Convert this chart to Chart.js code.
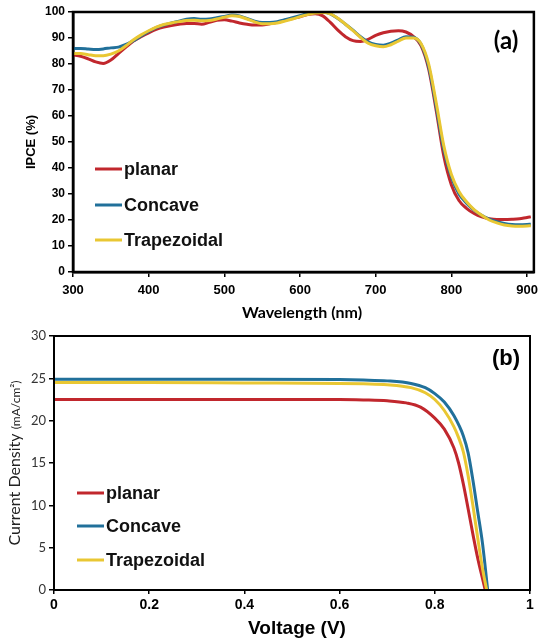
<!DOCTYPE html>
<html>
<head>
<meta charset="utf-8">
<script src="https://cdn.jsdelivr.net/npm/chart.js@4.4.1/dist/chart.umd.min.js"></script>
<style>
  body { margin: 0; background: #fff; }
  canvas { display: block; }
</style>
</head>
<body>
<canvas id="ipceChart" width="544" height="320"></canvas>
<canvas id="jvChart" width="544" height="324"></canvas>
<script>
// ---- (a) IPCE data ----
const wavelength = [300, 310, 320, 330, 340, 350, 360, 370, 380, 390,
    400, 410, 420, 430, 440, 450, 460, 470, 480, 490,
    500, 510, 520, 530, 540, 550, 560, 570, 580, 590,
    600, 610, 620, 630, 640, 650, 660, 670, 680, 690,
    700, 710, 720, 730, 740, 750, 760, 770, 780, 790,
    800, 810, 820, 830, 840, 850, 860, 870, 880, 890,
    900, 905];
const ipcePlanar = [83.5, 83, 82, 80.8, 80.2, 81.5, 84, 86.5, 88.8, 90.5,
    92, 93.3, 94.2, 94.8, 95.3, 95.6, 95.6, 95.3, 96, 96.8,
    97, 96.5, 95.8, 95.3, 95, 95, 95.5, 96, 96.8, 97.5,
    98.2, 99, 99.3, 98.5, 96, 93, 90.5, 89, 88.7, 89.5,
    91, 92, 92.6, 92.8, 92.3, 90.5, 87, 78, 62, 44.5,
    33.5, 27.5, 24.5, 22.5, 21.2, 20.5, 20.2, 20.2, 20.3, 20.5,
    21, 21.2];
const ipceConcave = [86, 86, 85.8, 85.6, 85.8, 86.2, 86.5, 87.5, 89, 90.8,
    92.5, 94, 95, 95.8, 96.5, 97.2, 97.5, 97.2, 97.3, 97.8,
    98.3, 98.8, 98.5, 97.5, 96.5, 96, 96, 96.3, 97, 97.8,
    98.6, 99.4, 99.8, 100, 99.3, 97.5, 95.3, 93, 90.5, 88.5,
    87.5, 87.2, 88, 89.3, 90.5, 90.3, 87.5, 79, 63.5, 47,
    36.5, 30, 26.5, 23.8, 21.8, 20.3, 19.3, 18.7, 18.3, 18.2,
    18.3, 18.4];
const ipceTrapezoidal = [84, 84, 83.6, 83.2, 83.2, 83.8, 85, 87, 89.3, 91.2,
    92.8, 94.2, 95.2, 95.8, 96.3, 96.7, 96.8, 96.6, 96.7, 97.3,
    98, 98.6, 98.3, 97.3, 96.2, 95.5, 95.5, 95.8, 96.5, 97.3,
    98.2, 99, 99.6, 99.8, 99.3, 97.6, 95.3, 92.8, 90.2, 88,
    87, 86.6, 87.4, 88.8, 90, 90, 87.8, 80, 65, 48.5,
    37.5, 31, 27, 24, 21.8, 20, 18.9, 18.1, 17.7, 17.6,
    17.7, 17.8];
const wavelengthTicks = [300, 400, 500, 600, 700, 800, 900];

// ---- (b) J-V data ----
const voltagePlanar = [0, 0.2, 0.4, 0.6, 0.65, 0.7, 0.74, 0.77, 0.8, 0.82, 0.84, 0.85, 0.86, 0.87, 0.88, 0.89, 0.9, 0.906];
const jPlanar = [22.5, 22.5, 22.5, 22.5, 22.45, 22.35, 22.1, 21.6, 20.3, 19.0, 16.8, 15.0, 12.5, 9.6, 6.6, 3.8, 1.4, 0];
const voltageConcave = [0, 0.2, 0.4, 0.6, 0.65, 0.7, 0.75, 0.78, 0.8, 0.82, 0.84, 0.86, 0.87, 0.88, 0.89, 0.9, 0.905, 0.911];
const jConcave = [24.9, 24.9, 24.9, 24.85, 24.8, 24.7, 24.4, 23.9, 23.2, 22.2, 20.6, 18.2, 16.2, 13.0, 9.3, 5.6, 3.2, 0];
const voltageTrapezoidal = [0, 0.2, 0.4, 0.6, 0.65, 0.7, 0.75, 0.78, 0.8, 0.82, 0.84, 0.85, 0.86, 0.87, 0.88, 0.89, 0.9, 0.909];
const jTrapezoidal = [24.5, 24.5, 24.45, 24.4, 24.35, 24.25, 23.9, 23.3, 22.5, 21.2, 19.3, 18.0, 16.3, 13.5, 10.0, 6.2, 2.6, 0];
const voltageTicks = [0, 0.2, 0.4, 0.6, 0.8, 1];

const seriesNames = ['planar', 'Concave', 'Trapezoidal'];
const seriesColors = ['#c1272d', '#21709a', '#e9c733'];

function pairs(xs, ys) {
    return xs.map((x, i) => ({ x: x, y: ys[i] }));
}

function makeSets(list) {
    // order: trapezoidal ends up on top
    return list.map((d, i) => ({
        label: seriesNames[i],
        data: d,
        borderColor: seriesColors[i],
        borderWidth: 3,
        pointRadius: 0,
        fill: false,
        cubicInterpolationMode: 'monotone',
        order: 3 - i
    }));
}

// frame, panel tag, inline legend, axis titles
const panelDecor = {
    id: 'panelDecor',
    afterDraw(chart, args, o) {
        const ctx = chart.ctx;
        const a = chart.chartArea;
        ctx.save();
        ctx.strokeStyle = '#000';
        ctx.lineWidth = o.frameWidth;
        ctx.strokeRect(a.left, a.top, a.right - a.left, a.bottom - a.top);

        ctx.fillStyle = '#000';
        ctx.textAlign = 'center';
        ctx.textBaseline = 'middle';
        ctx.font = o.tagFont;
        ctx.fillText(o.tag, o.tagX, o.tagY);

        chart.data.datasets.forEach((ds, i) => {
            const y = o.legendY[i];
            ctx.strokeStyle = ds.borderColor;
            ctx.lineWidth = 3;
            ctx.beginPath();
            ctx.moveTo(o.legendX, y);
            ctx.lineTo(o.legendX + 27, y);
            ctx.stroke();
            ctx.font = o.legendFont;
            ctx.textAlign = 'left';
            ctx.fillStyle = '#111';
            ctx.fillText(ds.label, o.legendX + 29, y + 1);
        });

        ctx.fillStyle = '#000';
        ctx.textAlign = 'center';
        ctx.font = o.xTitleFont;
        ctx.fillText(o.xTitle, o.xTitleX, o.xTitleY);

        // rotated y title, possibly in two sizes
        ctx.translate(o.yTitleX, (a.top + a.bottom) / 2);
        ctx.rotate(-Math.PI / 2);
        ctx.textAlign = 'left';
        ctx.textBaseline = 'alphabetic';
        let total = 0;
        const widths = o.yTitle.map(p => {
            ctx.font = p.font;
            const w = ctx.measureText(p.text).width;
            total += w;
            return w;
        });
        let x = -total / 2;
        o.yTitle.forEach((p, i) => {
            ctx.font = p.font;
            ctx.fillStyle = p.color;
            ctx.fillText(p.text, x, 0);
            x += widths[i];
        });
        ctx.restore();
    }
};

Chart.register(panelDecor);

// ---- (a) ----
new Chart(document.getElementById('ipceChart').getContext('2d'), {
    type: 'line',
    data: {
        datasets: makeSets([
            pairs(wavelength, ipcePlanar),
            pairs(wavelength, ipceConcave),
            pairs(wavelength, ipceTrapezoidal)
        ])
    },
    options: {
        responsive: false,
        animation: false,
        layout: { padding: { top: 12, right: 6, left: 0, bottom: 0 } },
        plugins: {
            legend: { display: false },
            tooltip: { enabled: false },
            panelDecor: {
                frameWidth: 2.5,
                tag: '(a)', tagFont: 'bold 24px Lato', tagX: 506, tagY: 41,
                legendX: 95, legendY: [169, 205, 240],
                legendFont: 'bold 18px "Liberation Sans", Arial',
                xTitle: 'Wavelength (nm)', xTitleFont: 'bold 16px Lato', xTitleX: 302, xTitleY: 313,
                yTitleX: 35,
                yTitle: [{ text: 'IPCE (%)', font: 'bold 13px "Liberation Sans", Arial', color: '#000' }]
            }
        },
        scales: {
            x: {
                type: 'linear', min: 300, max: 909,
                afterBuildTicks: s => { s.ticks = wavelengthTicks.map(v => ({ value: v })); },
                afterFit: s => { s.height = 48; },
                grid: { drawOnChartArea: false, tickLength: 5, color: '#000', lineWidth: 1.5 },
                border: { display: true, color: '#000', width: 2.5 },
                ticks: { padding: 6, color: '#000', maxRotation: 0, font: { family: '"Liberation Sans", Arial', size: 13, weight: 'bold' } }
            },
            y: {
                min: 0, max: 100,
                afterFit: s => { s.width = 73; },
                grid: { drawOnChartArea: false, tickLength: 5, color: '#000', lineWidth: 1.5 },
                border: { display: true, color: '#000', width: 2.5 },
                ticks: { stepSize: 10, padding: 3, color: '#000', font: { family: '"Liberation Sans", Arial', size: 12, weight: 'bold' } }
            }
        }
    }
});

// ---- (b) ----
new Chart(document.getElementById('jvChart').getContext('2d'), {
    type: 'line',
    data: {
        datasets: makeSets([
            pairs(voltagePlanar, jPlanar),
            pairs(voltageConcave, jConcave),
            pairs(voltageTrapezoidal, jTrapezoidal)
        ])
    },
    options: {
        responsive: false,
        animation: false,
        layout: { padding: { top: 16, right: 14, left: 0, bottom: 0 } },
        plugins: {
            legend: { display: false },
            tooltip: { enabled: false },
            panelDecor: {
                frameWidth: 2,
                tag: '(b)', tagFont: 'bold 22px "Liberation Sans", Arial', tagX: 506, tagY: 39,
                legendX: 77, legendY: [173, 206, 240],
                legendFont: 'bold 18px "Liberation Sans", Arial',
                xTitle: 'Voltage (V)', xTitleFont: 'bold 19px "Liberation Sans", Arial', xTitleX: 297, xTitleY: 309,
                yTitleX: 20,
                yTitle: [
                    { text: 'Current Density ', font: '16px Lato', color: '#222' },
                    { text: '(mA/cm²)', font: '12px Lato', color: '#222' }
                ]
            }
        },
        scales: {
            x: {
                type: 'linear', min: 0, max: 1,
                afterBuildTicks: s => { s.ticks = voltageTicks.map(v => ({ value: v })); },
                afterFit: s => { s.height = 54; },
                grid: { drawOnChartArea: false, tickLength: 4, color: '#000', lineWidth: 1.5 },
                border: { display: true, color: '#000', width: 2 },
                ticks: {
                    padding: 3, color: '#000', maxRotation: 0,
                    callback: v => String(v),
                    font: { family: '"Liberation Sans", Arial', size: 14, weight: 'bold' }
                }
            },
            y: {
                min: 0, max: 30,
                afterFit: s => { s.width = 54; },
                grid: { drawOnChartArea: false, tickLength: 5, color: '#000', lineWidth: 1.5 },
                border: { display: true, color: '#000', width: 2 },
                ticks: { stepSize: 5, padding: 3, color: '#333', font: { family: 'Lato', size: 13 } }
            }
        }
    }
});
</script>
</body>
</html>
